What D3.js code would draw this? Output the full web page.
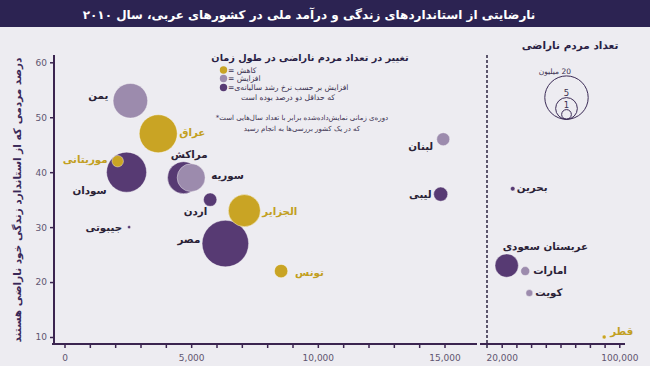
<!DOCTYPE html>
<html>
<head>
<meta charset="utf-8">
<script src="https://cdn.jsdelivr.net/npm/d3@7/dist/d3.min.js"></script>
<style>
  body { margin: 0; background: #edecf1; }
  svg { display: block; font-family: "DejaVu Sans", sans-serif; }
</style>
</head>
<body>
<div id="chart"></div>
<script>
// data
const countries = ['یمن', 'عراق', 'موریتانی', 'سودان', 'مراکش', 'سوریه', 'اردن', 'جیبوتی', 'الجزایر',
  'مصر', 'تونس', 'لبنان', 'لیبی', 'بحرین', 'عربستان سعودی', 'امارات', 'کویت', 'قطر']
const gdpPerCapita = [2600, 3700, 2100, 2450, 4700, 5000, 5750, 2550, 7100,
  6350, 8550, 14950, 14850, 27500, 23400, 36000, 38800, 89700]
const pctUnhappy = [53, 47, 42, 40, 39, 39, 35, 30, 33, 27, 22, 46, 36, 37, 23, 22, 18, 10]
const unhappyMillions = [12.7, 15.3, 1.4, 17, 10.9, 8.3, 1.9, 0.1, 10.9,
  23, 1.9, 1.8, 2.1, 0.22, 5.8, 0.86, 0.52, 0.17]
const trend = ['up', 'down', 'down', 'fast', 'fast', 'up', 'fast', 'fast', 'down',
  'fast', 'down', 'up', 'fast', 'fast', 'fast', 'up', 'up', 'down']

const leftTicks = d3.range(0, 16000, 1000)
const rightTicks = d3.range(20000, 110000, 10000)
const yTicks = [10, 20, 30, 40, 50, 60]
const sizeLegend = [20, 5, 1]

const legendItems = [
  { key: 'down', text: 'کاهش =' },
  { key: 'up', text: 'افزایش =' },
  { key: 'fast', text: 'افزایش بر حسب نرخ رشد سالیانه‌ی=' }
]

// label placement: dx/dy from bubble centre, side = which edge of text sits at dx
const labelPos = {
  'یمن': [-22, -5, 'right'], 'عراق': [21, -1, 'left'], 'موریتانی': [-10, -2, 'right'],
  'سودان': [-20, 18, 'right'], 'مراکش': [24, -23, 'right'], 'سوریه': [20, -2, 'left'],
  'اردن': [-3, 12, 'right'], 'جیبوتی': [-7, 0, 'right'], 'الجزایر': [18, 1, 'left'],
  'مصر': [-25, -4, 'right'], 'تونس': [14, 1, 'left'], 'لبنان': [-10, 7, 'right'],
  'لیبی': [-9, 0, 'right'], 'بحرین': [4, -1, 'left'], 'عربستان سعودی': [-4, -19, 'left'],
  'امارات': [8, -1, 'left'], 'کویت': [6, -1, 'left'], 'قطر': [6, -6, 'left']
}

const colors = { down: '#c9a424', up: '#9c8bad', fast: '#573a73' }
const labelColors = { down: '#c29f22', up: '#2a2236', fast: '#2a2236' }

const width = 650, height = 366

const svg = d3.select('#chart').append('svg')
  .attr('width', width)
  .attr('height', height)

svg.append('rect').attr('width', width).attr('height', height).attr('fill', '#edecf1')

// title bar
svg.append('rect').attr('width', width).attr('height', 27).attr('fill', '#2c2352')
svg.append('text')
  .attr('x', 309).attr('y', 18.5)
  .attr('direction', 'rtl')
  .attr('text-anchor', 'middle')
  .attr('fill', '#fff')
  .attr('font-size', 12)
  .attr('font-weight', 'bold')
  .text('نارضایتی از استانداردهای زندگی و درآمد ملی در کشورهای عربی، سال ۲۰۱۰')

// scales
const xLeft = d3.scaleLinear().domain([0, 15000]).range([64.5, 444.5])
const xRight = d3.scaleLinear().domain([20000, 100000]).range([501.7, 619.3])
const x = v => v < 17000 ? xLeft(v) : xRight(v)
const y = d3.scaleLinear().domain([10, 60]).range([337, 62.3])
const r = d3.scaleSqrt().domain([0, 20]).range([0, 21.7])

const axisColor = '#3b2550'
const tickText = '#5f5570'

// x axis, two pieces
const axisY = 344
const gxl = svg.append('g').attr('transform', `translate(0,${axisY})`)
  .call(d3.axisBottom(xLeft).tickValues(leftTicks).tickSize(4)
    .tickFormat(d => d % 5000 === 0 ? d3.format(',')(d) : ''))
const gxr = svg.append('g').attr('transform', `translate(0,${axisY})`)
  .call(d3.axisBottom(xRight).tickValues(rightTicks).tickSize(4)
    .tickFormat(d => (d === 20000 || d === 100000) ? d3.format(',')(d) : ''))

const gy = svg.append('g').attr('transform', 'translate(54,0)')
  .call(d3.axisLeft(y).tickValues(yTicks).tickSize(4))

for (const g of [gxl, gxr, gy]) {
  g.select('.domain').remove()
  g.selectAll('line').attr('stroke', axisColor).attr('stroke-width', 1.5)
  g.selectAll('text').attr('fill', tickText).attr('font-size', 9)
    .attr('font-family', '"DejaVu Sans", sans-serif')
}
gxl.selectAll('text').attr('dy', '1.1em')
gxr.selectAll('text').attr('dy', '1.1em')

svg.append('line').attr('x1', 52).attr('x2', 477).attr('y1', axisY).attr('y2', axisY)
  .attr('stroke', axisColor).attr('stroke-width', 2)
svg.append('line').attr('x1', 480).attr('x2', 625).attr('y1', axisY).attr('y2', axisY)
  .attr('stroke', axisColor).attr('stroke-width', 2)
svg.append('line').attr('x1', 54).attr('x2', 54).attr('y1', 55).attr('y2', axisY + 1)
  .attr('stroke', axisColor).attr('stroke-width', 2)

// break line
svg.append('line').attr('x1', 487).attr('x2', 487).attr('y1', 55).attr('y2', 348)
  .attr('stroke', '#2d2340').attr('stroke-width', 1.5).attr('stroke-dasharray', '3,2')

// y axis title
svg.append('text')
  .attr('transform', 'translate(21,200) rotate(-90)')
  .attr('direction', 'rtl')
  .attr('text-anchor', 'middle')
  .attr('fill', '#3a2858')
  .attr('font-size', 10.5)
  .attr('font-weight', 'bold')
  .text('درصد مردمی  که از استاندارد زندگی خود ناراضی هستند')

// bubbles
const data = countries.map((name, i) => ({
  name, gdp: gdpPerCapita[i], pct: pctUnhappy[i], m: unhappyMillions[i], trend: trend[i]
}))

svg.append('g')
  .selectAll('circle')
  .data(data.slice().sort((a, b) => b.m - a.m))
  .join('circle')
  .attr('cx', d => x(d.gdp))
  .attr('cy', d => y(d.pct))
  .attr('r', d => Math.max(r(d.m), 1.6))
  .attr('fill', d => colors[d.trend])
  .attr('stroke', '#ffffff')
  .attr('stroke-opacity', 0.5)
  .attr('stroke-width', 0.8)

svg.append('g')
  .selectAll('text')
  .data(data)
  .join('text')
  .attr('x', d => x(d.gdp) + labelPos[d.name][0])
  .attr('y', d => y(d.pct) + labelPos[d.name][1])
  .attr('dy', '0.35em')
  .attr('direction', 'rtl')
  .attr('text-anchor', d => labelPos[d.name][2] === 'left' ? 'end' : 'start')
  .attr('fill', d => labelColors[d.trend])
  .attr('font-size', 10.3)
  .attr('font-weight', 'bold')
  .text(d => d.name)

// colour legend
svg.append('text')
  .attr('x', 310).attr('y', 61)
  .attr('direction', 'rtl').attr('text-anchor', 'middle')
  .attr('fill', '#2a1f45').attr('font-size', 9.7).attr('font-weight', 'bold')
  .text('تغییر در تعداد مردم ناراضی در طول زمان')

const legY = [70, 78.5, 87.5]
const leg = svg.append('g')
leg.selectAll('circle').data(legendItems).join('circle')
  .attr('cx', 223.5).attr('cy', (d, i) => legY[i]).attr('r', 3.7)
  .attr('fill', d => colors[d.key])
leg.selectAll('text').data(legendItems).join('text')
  .attr('x', 228).attr('y', (d, i) => legY[i]).attr('dy', '0.35em')
  .attr('direction', 'rtl').attr('text-anchor', 'end')
  .attr('fill', '#3a3050').attr('font-size', 7.6)
  .text(d => d.text)
leg.append('text')
  .attr('x', 288).attr('y', 97).attr('dy', '0.35em')
  .attr('direction', 'rtl').attr('text-anchor', 'middle')
  .attr('fill', '#3a3050').attr('font-size', 7.6)
  .text('که حداقل دو درصد بوده است')

leg.append('text')
  .attr('x', 302).attr('y', 118).attr('dy', '0.35em')
  .attr('direction', 'rtl').attr('text-anchor', 'middle')
  .attr('fill', '#3a3050').attr('font-size', 7)
  .text('دوره‌ی زمانی نمایش‌داده‌شده برابر با تعداد سال‌هایی است*')
leg.append('text')
  .attr('x', 302).attr('y', 129).attr('dy', '0.35em')
  .attr('direction', 'rtl').attr('text-anchor', 'middle')
  .attr('fill', '#3a3050').attr('font-size', 7)
  .text('که در یک کشور بررسی‌ها به انجام رسید')

// size legend
svg.append('text')
  .attr('x', 570).attr('y', 49)
  .attr('direction', 'rtl').attr('text-anchor', 'middle')
  .attr('fill', '#2a1f45').attr('font-size', 10.5).attr('font-weight', 'bold')
  .text('تعداد مردم ناراضی')

const sizeBottom = 119.3, sizeX = 566.5
const sl = svg.append('g')
sl.selectAll('circle').data(sizeLegend).join('circle')
  .attr('cx', sizeX).attr('cy', d => sizeBottom - r(d)).attr('r', d => r(d))
  .attr('fill', 'none').attr('stroke', '#3a2a55').attr('stroke-width', 1)
sl.selectAll('text').data(sizeLegend).join('text')
  .attr('x', d => d === 20 ? 571 : sizeX)
  .attr('y', d => sizeBottom - 2 * r(d) - 2)
  .attr('direction', 'rtl')
  .attr('text-anchor', d => d === 20 ? 'start' : 'middle')
  .attr('fill', '#3a3050').attr('font-size', d => d === 20 ? 7.5 : 8.5)
  .text(d => d === 20 ? '20 میلیون' : d)
</script>
</body>
</html>
